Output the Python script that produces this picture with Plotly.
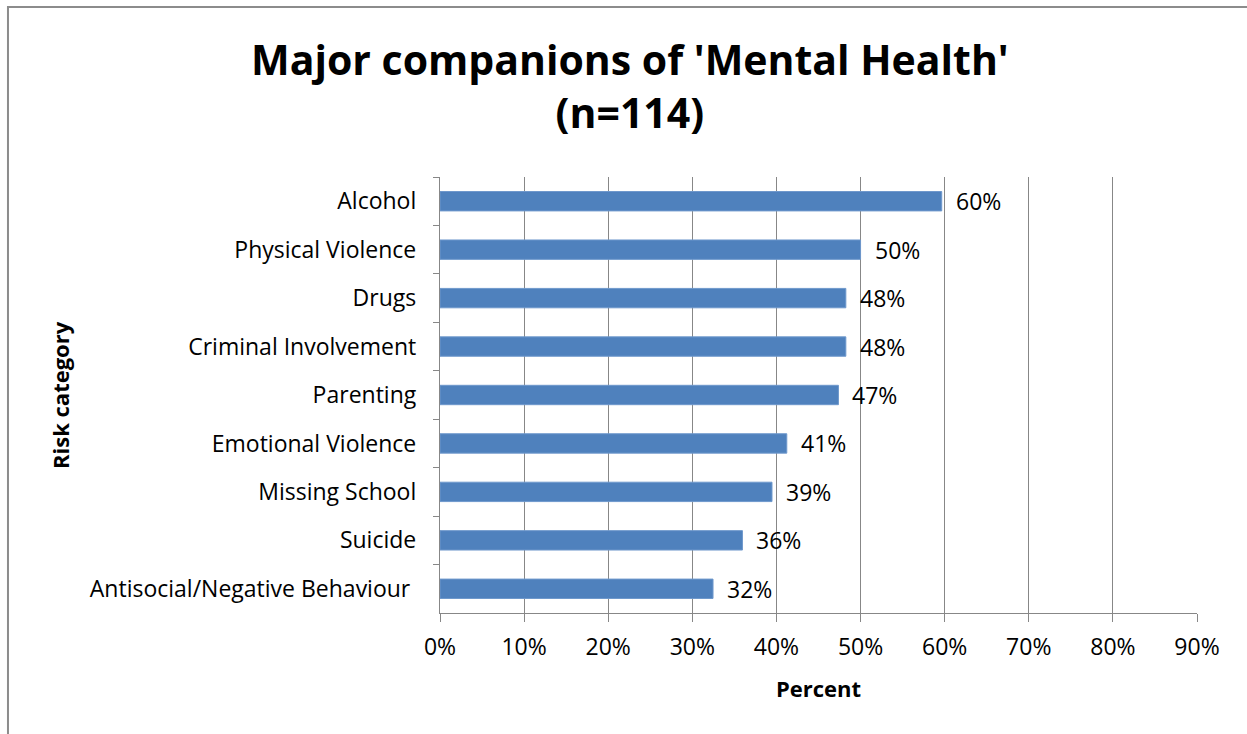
import plotly.graph_objects as go

# Risk categories (top to bottom) and share of the 114 cases, in percent
categories = [
    "Alcohol",
    "Physical Violence",
    "Drugs",
    "Criminal Involvement",
    "Parenting",
    "Emotional Violence",
    "Missing School",
    "Suicide",
    "Antisocial/Negative Behaviour\u00a0",
]
percent = [59.65, 50.00, 48.25, 48.25, 47.37, 41.23, 39.47, 35.96, 32.46]
x_ticks = [0, 10, 20, 30, 40, 50, 60, 70, 80, 90]
x_tick_labels = [f"{t}%" for t in x_ticks]

FONT = "'Open Sans', sans-serif"
GRID = "#878787"
BAR = "#4F81BD"
TICK_SIZE = 23

fig = go.Figure()
fig.add_trace(
    go.Bar(
        y=categories,
        x=percent,
        orientation="h",
        marker=dict(color=BAR, line=dict(color="#6E98CC", width=1)),
        hoverinfo="skip",
    )
)

# value labels just past the end of each bar
for cat, val in zip(categories, percent):
    fig.add_annotation(
        x=val, y=cat, text=f"{val:.0f}%", showarrow=False,
        xanchor="left", xshift=12,
        font=dict(family=FONT, size=TICK_SIZE, color="#000000"),
    )

# chart title
fig.add_annotation(
    xref="paper", yref="paper", x=0.251, y=1.211,
    xanchor="center", yanchor="middle",
    text="<b>Major companions of 'Mental Health'<br>(n=114)</b>",
    showarrow=False,
    font=dict(family=FONT, size=41, color="#000000"),
)

# axis titles
fig.add_annotation(
    xref="paper", yref="paper", x=0.5, y=-0.172,
    xanchor="center", yanchor="middle",
    text="<b>Percent</b>", showarrow=False,
    font=dict(family=FONT, size=22, color="#000000"),
)
fig.add_annotation(
    xref="paper", yref="paper", x=-0.502, y=0.5,
    xanchor="center", yanchor="middle", textangle=-90,
    text="<b>Risk category</b>", showarrow=False,
    font=dict(family=FONT, size=22, color="#000000"),
)

# outer chart frame
fig.add_shape(
    type="rect", xref="paper", yref="paper",
    x0=-0.5707, x1=1.3, y0=-0.6, y1=1.390,
    line=dict(color="#8C8C8C", width=2), fillcolor="rgba(0,0,0,0)",
    layer="below",
)

fig.update_layout(
    width=1247,
    height=734,
    margin=dict(l=440, r=50, t=177, b=121),
    paper_bgcolor="#FFFFFF",
    plot_bgcolor="#FFFFFF",
    showlegend=False,
    bargap=0.6,
    font=dict(family=FONT, size=TICK_SIZE, color="#000000"),
    xaxis=dict(
        range=[0, 90],
        tickvals=x_ticks,
        ticktext=x_tick_labels,
        showgrid=True, gridcolor=GRID, gridwidth=1.3,
        showline=True, linecolor=GRID, linewidth=1.3,
        ticks="outside", ticklen=8, tickcolor=GRID, tickwidth=1.3,
        ticklabelstandoff=5,
        tickfont=dict(family=FONT, size=TICK_SIZE),
        zeroline=False,
        fixedrange=True,
    ),
    yaxis=dict(
        autorange="reversed",
        type="category",
        showgrid=False,
        showline=True, linecolor=GRID, linewidth=1.3,
        ticks="outside", ticklen=6, tickcolor=GRID, tickwidth=1.3,
        tickson="boundaries",
        ticklabelstandoff=18,
        tickfont=dict(family=FONT, size=TICK_SIZE),
        fixedrange=True,
    ),
)

fig.write_html("out.html")
